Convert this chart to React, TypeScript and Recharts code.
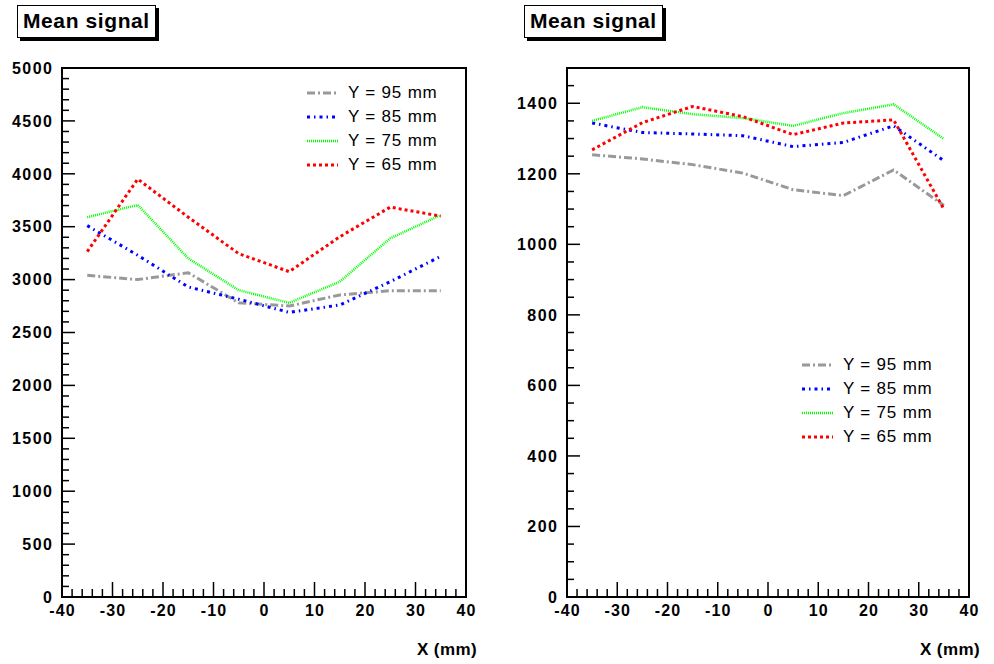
import React from 'react';
import { LineChart, Line, XAxis, YAxis, ReferenceArea, Legend } from 'recharts';

// x positions of the scan (mm)
const xPositions = [-35, -25, -15, -5, 5, 15, 25, 35];

const seriesNames = ['Y = 95 mm', 'Y = 85 mm', 'Y = 75 mm', 'Y = 65 mm'];

// left panel
const leftY95 = [3040, 3000, 3065, 2780, 2750, 2855, 2895, 2895];
const leftY85 = [3510, 3230, 2930, 2815, 2690, 2760, 2980, 3220];
const leftY75 = [3590, 3705, 3200, 2900, 2780, 2980, 3390, 3610];
const leftY65 = [3265, 3950, 3590, 3245, 3075, 3405, 3685, 3600];

// right panel
const rightY95 = [1254, 1242, 1226, 1202, 1155, 1138, 1211, 1110];
const rightY85 = [1344, 1317, 1313, 1308, 1277, 1289, 1336, 1237];
const rightY75 = [1350, 1389, 1369, 1358, 1336, 1372, 1397, 1299];
const rightY65 = [1268, 1345, 1391, 1362, 1311, 1344, 1353, 1100];

const xTicks: number[] = [];
for (let v = -40; v <= 40; v += 2) xTicks.push(v);

const FONT = '"Liberation Sans", Arial, Helvetica, sans-serif';

const lineStyles = [
  { color: '#999999', dash: '8 3 2 3', width: 3 },
  { color: '#0000ff', dash: '3 4 1.5 4', width: 3 },
  { color: '#00ff00', dash: '1 1', width: 2.5 },
  { color: '#ff0000', dash: '3 3', width: 3 },
];

const XTick = (props: any) => {
  const { x, y, payload } = props;
  const v = payload.value;
  const major = v % 10 === 0;
  return (
    <g>
      <line x1={x} x2={x} y1={y} y2={y - (major ? 15 : 8)} stroke="#000" strokeWidth={1.5} />
      {major && (
        <text x={x + 0.6} y={y + 19} textAnchor="middle" fontSize={16} fontWeight="bold" fontFamily={FONT}
          letterSpacing={1.2} fill="#000">
          {v}
        </text>
      )}
    </g>
  );
};

const makeYTick = (majorStep: number) => (props: any) => {
  const { x, y, payload } = props;
  const v = payload.value;
  const major = v % majorStep === 0;
  return (
    <g>
      <line x1={x} x2={x + (major ? 13 : 7)} y1={y} y2={y} stroke="#000" strokeWidth={1.5} />
      {major && (
        <text x={x - 8.5} y={y} dy="0.36em" textAnchor="end" fontSize={16} fontWeight="bold" fontFamily={FONT}
          letterSpacing={1.5} fill="#000">
          {v}
        </text>
      )}
    </g>
  );
};

const LegendBox = () => (
  <div style={{ fontFamily: FONT, fontSize: 17, letterSpacing: 0.8, color: '#000' }}>
    {seriesNames.map((name, i) => (
      <div key={name} style={{ display: 'flex', alignItems: 'center', height: 24 }}>
        <svg width={31} height={10} style={{ marginRight: 10 }}>
          <line x1={0} x2={31} y1={5} y2={5} stroke={lineStyles[i].color}
            strokeWidth={lineStyles[i].width} strokeDasharray={lineStyles[i].dash} />
        </svg>
        <span style={{ whiteSpace: 'nowrap' }}>{name}</span>
      </div>
    ))}
  </div>
);

interface PanelProps {
  left: number;
  values: number[][];
  yMax: number;
  yMajor: number;
  yMinor: number;
  axisWidth: number;
  rightMargin: number;
  titleLeft: number;
  legendLeft: number;
  legendTop: number;
  xLabelRight: number;
}

const Panel: React.FC<PanelProps> = ({
  left, values, yMax, yMajor, yMinor, axisWidth, rightMargin, titleLeft, legendLeft, legendTop, xLabelRight,
}) => {
  const data = xPositions.map((x, i) => ({
    x,
    s0: values[0][i],
    s1: values[1][i],
    s2: values[2][i],
    s3: values[3][i],
  }));
  const yTicks: number[] = [];
  for (let v = 0; v <= yMax; v += yMinor) yTicks.push(v);
  const YTick = makeYTick(yMajor);

  return (
    <div style={{ position: 'absolute', left, top: 0, width: 497, height: 664 }}>
      <LineChart width={497} height={664} data={data} margin={{ top: 68, right: rightMargin, bottom: 0, left: 0 }}>
        <XAxis dataKey="x" type="number" domain={[-40, 40]} ticks={xTicks} interval={0}
          tickSize={0} tickMargin={0} axisLine={false} tickLine={false} tick={<XTick />} height={67} />
        <YAxis type="number" domain={[0, yMax]} ticks={yTicks} interval={0} width={axisWidth}
          tickSize={0} tickMargin={0} axisLine={false} tickLine={false} tick={<YTick />} />
        <ReferenceArea x1={-40} x2={40} y1={0} y2={yMax} fill="none" fillOpacity={0} stroke="#000" strokeWidth={2} />
        {lineStyles.map((s, i) => (
          <Line key={i} type="linear" dataKey={`s${i}`} stroke={s.color} strokeWidth={s.width}
            strokeDasharray={s.dash} dot={false} activeDot={false} isAnimationActive={false} />
        ))}
        <Legend layout="horizontal" verticalAlign="middle" align="center"
          wrapperStyle={{ left: legendLeft, top: legendTop, width: 170 }} content={() => <LegendBox />} />
      </LineChart>
      <div style={{
        position: 'absolute', left: titleLeft, top: 5, border: '1px solid #000', boxShadow: '3px 3px 0 #000',
        background: '#fff', padding: '1px 5px 3px 5px', fontFamily: FONT, fontWeight: 'bold', fontSize: 21,
        letterSpacing: 0.6, lineHeight: '27px', color: '#000', whiteSpace: 'nowrap',
      }}>
        Mean signal
      </div>
      <div style={{
        position: 'absolute', right: 497 - xLabelRight, top: 640, fontFamily: FONT, fontWeight: 'bold',
        fontSize: 17, letterSpacing: 0.4, color: '#000', whiteSpace: 'nowrap',
      }}>
        X (mm)
      </div>
    </div>
  );
};

export default function App() {
  return (
    <div style={{ position: 'absolute', left: 0, top: 0, width: 994, height: 664, background: '#fff' }}>
      <Panel left={0} values={[leftY95, leftY85, leftY75, leftY65]} yMax={5000} yMajor={500} yMinor={100}
        axisWidth={62} rightMargin={31} titleLeft={17} legendLeft={307} legendTop={81} xLabelRight={477} />
      <Panel left={497} values={[rightY95, rightY85, rightY75, rightY65]} yMax={1500} yMajor={200} yMinor={50}
        axisWidth={70} rightMargin={25} titleLeft={27} legendLeft={305} legendTop={353} xLabelRight={483} />
    </div>
  );
}
